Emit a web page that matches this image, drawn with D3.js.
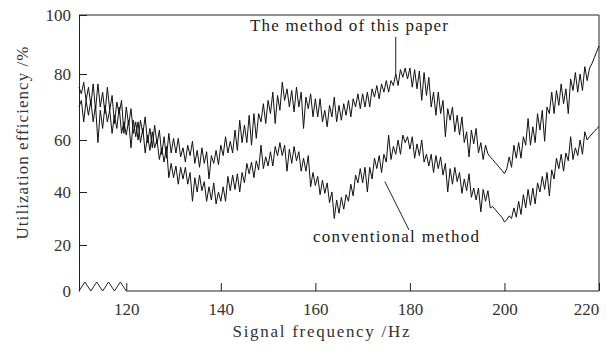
<!DOCTYPE html>
<html>
<head>
<meta charset="utf-8">
<script src="https://cdn.jsdelivr.net/npm/d3@7"></script>
<style>
  body { margin: 0; background: #fff; }
</style>
</head>
<body>
<script>
// signal frequency (Hz), sampled every 0.5 Hz
const freq = [
  110, 110.5, 111, 111.5, 112, 112.5, 113, 113.5, 114, 114.5,
  115, 115.5, 116, 116.5, 117, 117.5, 118, 118.5, 119, 119.5,
  120, 120.5, 121, 121.5, 122, 122.5, 123, 123.5, 124, 124.5,
  125, 125.5, 126, 126.5, 127, 127.5, 128, 128.5, 129, 129.5,
  130, 130.5, 131, 131.5, 132, 132.5, 133, 133.5, 134, 134.5,
  135, 135.5, 136, 136.5, 137, 137.5, 138, 138.5, 139, 139.5,
  140, 140.5, 141, 141.5, 142, 142.5, 143, 143.5, 144, 144.5,
  145, 145.5, 146, 146.5, 147, 147.5, 148, 148.5, 149, 149.5,
  150, 150.5, 151, 151.5, 152, 152.5, 153, 153.5, 154, 154.5,
  155, 155.5, 156, 156.5, 157, 157.5, 158, 158.5, 159, 159.5,
  160, 160.5, 161, 161.5, 162, 162.5, 163, 163.5, 164, 164.5,
  165, 165.5, 166, 166.5, 167, 167.5, 168, 168.5, 169, 169.5,
  170, 170.5, 171, 171.5, 172, 172.5, 173, 173.5, 174, 174.5,
  175, 175.5, 176, 176.5, 177, 177.5, 178, 178.5, 179, 179.5,
  180, 180.5, 181, 181.5, 182, 182.5, 183, 183.5, 184, 184.5,
  185, 185.5, 186, 186.5, 187, 187.5, 188, 188.5, 189, 189.5,
  190, 190.5, 191, 191.5, 192, 192.5, 193, 193.5, 194, 194.5,
  195, 195.5, 196, 196.5, 197, 197.5, 198, 198.5, 199, 199.5,
  200, 200.5, 201, 201.5, 202, 202.5, 203, 203.5, 204, 204.5,
  205, 205.5, 206, 206.5, 207, 207.5, 208, 208.5, 209, 209.5,
  210, 210.5, 211, 211.5, 212, 212.5, 213, 213.5, 214, 214.5,
  215, 215.5, 216, 216.5, 217, 217.5, 218, 218.5, 219, 219.5,
  220
];

// utilization efficiency (%), the method of this paper
const ours = [
  76, 74, 77.5, 72, 76, 70.5, 77, 69, 77, 70,
  74.5, 68, 76, 69, 73.5, 65, 71.5, 68, 72, 62,
  70, 64.5, 69.5, 62, 65.5, 60, 66, 62, 67, 59,
  63.5, 57, 64.5, 58.5, 63, 54.5, 61, 53, 62, 55,
  60.5, 55, 60.5, 53.5, 57, 51.5, 58, 54, 59.5, 51,
  56, 49.5, 57, 51, 55.5, 45, 54, 51, 56, 50.5,
  58, 54, 61, 55, 59.5, 55, 63, 56, 66, 59,
  64.5, 59, 67.5, 58, 68, 60.5, 68, 65.5, 71, 65,
  72, 68, 74.5, 65, 73.5, 69, 77.5, 72, 75.5, 70,
  75, 68.5, 76, 70, 74.5, 63.5, 73, 69.5, 74, 67,
  72.5, 67, 72.5, 65.5, 69, 64, 70.5, 67, 73, 65.5,
  70.5, 66, 71, 67.5, 72, 67, 72.5, 70, 74, 69.5,
  74, 70, 74.5, 70, 75.5, 73, 76.5, 72.5, 77, 74.5,
  78, 74.5, 78, 76.5, 80, 76.5, 81.5, 79, 82, 78.5,
  82, 76, 81.5, 75.5, 81, 72, 80.5, 73.5, 79, 70,
  74.5, 67.5, 74.5, 68, 72, 61, 69.5, 66, 70, 62.5,
  67.5, 61.5, 67, 59, 62.5, 53.5, 63, 58.5, 63.5, 55,
  59, 52.5, 58, 54.7, 53.5, 52.5, 51.4, 50.4, 49.3, 48.2,
  47.1, 49, 53.5, 49.5, 58, 53, 59, 53, 61, 58,
  66.5, 58, 64, 59, 68, 63, 69, 59.5, 70, 68,
  74.5, 68, 75, 70.5, 77, 71, 75.5, 68, 78.5, 75,
  80.5, 74.5, 80, 75, 82.5, 78, 82, 83.5, 85.5, 87.5,
  89.5
];

// utilization efficiency (%), conventional method
const conventional = [
  70, 72, 65.5, 72, 67.5, 72, 65.5, 70.5, 59, 69,
  63.5, 70.5, 65.5, 69, 62, 67.5, 63.5, 70, 62, 65.5,
  61.5, 66, 57, 66, 61, 65.5, 59, 63.5, 55, 61.5,
  56, 62.5, 57, 60, 52.5, 57, 51.5, 57.5, 45.5, 51,
  45.5, 50, 43, 49.5, 45, 49.5, 43, 47.5, 36.5, 45.5,
  40, 46.5, 40.5, 44, 36.5, 42, 37, 43.5, 35.5, 40,
  36.5, 42, 36.5, 46, 40.5, 46.5, 41, 47, 40, 47.5,
  43.5, 51, 47, 51.5, 45.5, 52, 48.5, 58, 49, 53.5,
  50, 55.5, 50, 57.5, 54, 59, 54, 58, 48, 56.5,
  51, 57.5, 52, 55.5, 48, 53, 48, 54, 42, 47.5,
  42.5, 46, 39, 44.5, 39.5, 43.5, 36, 40, 30, 37,
  32, 38, 33.5, 39, 36.5, 43, 38.5, 46.5, 43.5, 49,
  43.5, 49.5, 40, 49.5, 45, 53, 49, 54, 47.5, 54.5,
  51.5, 61.5, 52.5, 57.5, 54.5, 60, 54.5, 61.5, 59, 61,
  56.5, 61, 53, 58.5, 54, 60, 51.5, 54.5, 50, 54.5,
  47.5, 54, 49, 53.5, 46.5, 51, 40, 49, 43, 49.5,
  44, 47.5, 39.5, 45, 40.5, 47, 38, 41.5, 37, 41.5,
  32.5, 41, 36.5, 40.5, 34, 34.5, 33.5, 32.4, 31.4, 30.3,
  28.7, 29.5, 31, 30, 34, 30.5, 36.5, 31.5, 39, 34,
  41, 35, 41.5, 35.5, 43.5, 40, 46, 41, 47.5, 38.5,
  48.5, 45, 53, 49, 54.5, 48, 55, 52, 61, 52.5,
  57, 54, 60, 54.5, 62.5, 60, 61, 61.8, 62.6, 63.4,
  64.1
];

const xTicks = [120, 140, 160, 180, 200, 220];
const yTicks = [0, 20, 40, 60, 80, 100];

const width = 607, height = 350;
const serif = "'Times New Roman', 'Liberation Serif', 'DejaVu Serif', serif";

const svg = d3.select('body').append('svg')
  .attr('width', width)
  .attr('height', height);

const x = d3.scaleLinear().domain([110, 220]).range([79, 599]);
// the printed axis is not evenly spaced, so follow its tick positions
const y = d3.scaleLinear().domain(yTicks).range([291, 245, 192, 140, 74, 15]);

const ink = '#222';
const fontSize = 17;

// frame: top and right
svg.append('path')
  .attr('d', `M${x(110)},${y(100)}H${x(220)}V${y(0)}`)
  .attr('fill', 'none').attr('stroke', ink).attr('stroke-width', 1);

// x axis
const xAxis = svg.append('g')
  .attr('transform', `translate(0,${y(0)})`)
  .call(d3.axisBottom(x).tickValues(xTicks).tickSizeInner(-8).tickSizeOuter(0).tickPadding(12));
xAxis.select('.domain').remove();
xAxis.selectAll('line').attr('stroke', ink);
xAxis.selectAll('text').attr('font-size', fontSize).attr('fill', '#333')
  .style('font-family', serif);
// last label sits inside the page edge, as in the print
xAxis.selectAll('.tick').filter(d => d === 220).select('text').attr('dx', -13);

svg.append('line')
  .attr('x1', x(120)).attr('x2', x(220))
  .attr('y1', y(0)).attr('y2', y(0))
  .attr('stroke', ink);

// axis break zigzag between 110 and 120
const teeth = 4;
const breakPts = d3.range(teeth * 2 + 1).map(i => [
  x(110) + (x(120) - x(110)) * i / (teeth * 2),
  y(0) - (i % 2 ? 9 : 0)
]);
svg.append('path')
  .attr('d', d3.line()(breakPts))
  .attr('fill', 'none').attr('stroke', ink);

// y axis
const yAxis = svg.append('g')
  .attr('transform', `translate(${x(110)},0)`)
  .call(d3.axisLeft(y).tickValues(yTicks).tickSizeInner(-8).tickSizeOuter(0).tickPadding(8));
yAxis.select('.domain').attr('stroke', ink);
yAxis.selectAll('.tick').filter(d => d === 0).select('line').remove();
yAxis.selectAll('line').attr('stroke', ink);
yAxis.selectAll('text').attr('font-size', fontSize).attr('fill', '#333')
  .style('font-family', serif);

// axis titles
svg.append('text')
  .attr('x', 321).attr('y', 337)
  .attr('text-anchor', 'middle')
  .style('font-family', serif)
  .attr('font-size', fontSize).attr('fill', '#333')
  .attr('textLength', 177).attr('lengthAdjust', 'spacing')
  .text('Signal frequency /Hz');

svg.append('text')
  .attr('transform', 'translate(28,143) rotate(-90)')
  .attr('text-anchor', 'middle')
  .style('font-family', serif)
  .attr('font-size', fontSize).attr('fill', '#333')
  .attr('textLength', 193).attr('lengthAdjust', 'spacing')
  .text('Utilization efficiency /%');

// series
const line = d3.line()
  .x((d, i) => x(freq[i]))
  .y(d => y(d));

[ours, conventional].forEach(s => {
  svg.append('path')
    .datum(s)
    .attr('d', line)
    .attr('fill', 'none')
    .attr('stroke', '#111')
    .attr('stroke-width', 1)
    .attr('stroke-linejoin', 'miter');
});

// annotations
svg.append('line')
  .attr('x1', x(177)).attr('x2', x(177))
  .attr('y1', y(78) - 4).attr('y2', 37)
  .attr('stroke', ink);
svg.append('text')
  .attr('x', 250).attr('y', 31)
  .style('font-family', serif)
  .attr('font-size', fontSize).attr('fill', '#222')
  .attr('textLength', 198).attr('lengthAdjust', 'spacing')
  .text('The method of this paper');

svg.append('line')
  .attr('x1', x(174.7)).attr('y1', y(44))
  .attr('x2', 409).attr('y2', 230)
  .attr('stroke', ink);
svg.append('text')
  .attr('x', 313).attr('y', 242)
  .style('font-family', serif)
  .attr('font-size', fontSize).attr('fill', '#222')
  .attr('textLength', 166).attr('lengthAdjust', 'spacing')
  .text('conventional method');
</script>
</body>
</html>
